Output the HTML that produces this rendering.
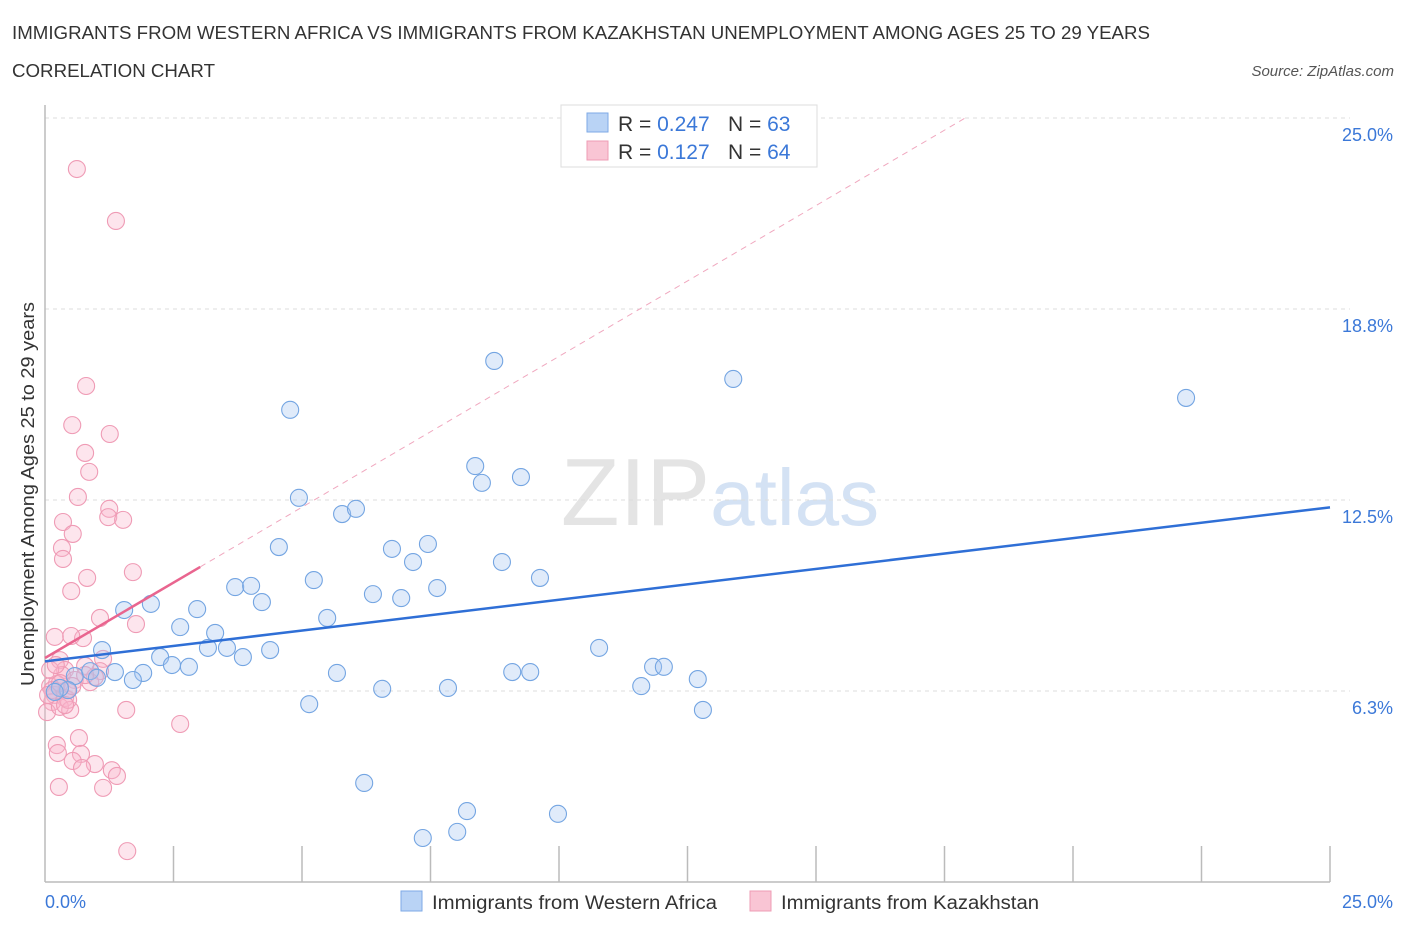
<!DOCTYPE html>
<html><head><meta charset="utf-8"><style>
body{margin:0;background:#fff;font-family:"Liberation Sans",sans-serif;}
svg text{font-family:"Liberation Sans",sans-serif;}
</style></head><body>
<svg id="chart" width="1406" height="930" viewBox="0 0 1406 930" xmlns="http://www.w3.org/2000/svg">
<text x="12" y="39" font-size="18" fill="#333" textLength="1138" lengthAdjust="spacingAndGlyphs">IMMIGRANTS FROM WESTERN AFRICA VS IMMIGRANTS FROM KAZAKHSTAN UNEMPLOYMENT AMONG AGES 25 TO 29 YEARS</text>
<text x="12" y="77" font-size="18" fill="#333" textLength="203" lengthAdjust="spacingAndGlyphs">CORRELATION CHART</text>
<text x="1394" y="76" font-size="15" fill="#555" text-anchor="end" font-style="italic">Source: ZipAtlas.com</text>
<text x="720" y="525" font-size="96" text-anchor="middle" fill="#e4e4e4" font-family="Liberation Serif">ZIP<tspan fill="#d4e2f4" font-family="Liberation Sans" font-size="80">atlas</tspan></text>
<g id="grid"></g>
<g id="axes"></g>
<g id="marks"></g>
<g id="lines"></g>
<text transform="translate(34,494) rotate(-90)" font-size="18" fill="#333" text-anchor="middle" textLength="384" lengthAdjust="spacingAndGlyphs">Unemployment Among Ages 25 to 29 years</text>
<text x="45" y="908" font-size="18" fill="#3b78d8">0.0%</text>
<text x="1393" y="908" font-size="18" fill="#3b78d8" text-anchor="end">25.0%</text>
<g>
<rect x="561" y="105" width="256" height="62" fill="#fff" stroke="#ddd"/>
<rect x="587" y="113" width="21" height="19" fill="#b9d3f5" stroke="#7ea9e6"/>
<rect x="587" y="141" width="21" height="19" fill="#f9c5d4" stroke="#ee9cb5"/>
<text x="618" y="131" font-size="21" fill="#333">R = <tspan fill="#3b78d8">0.247</tspan></text>
<text x="728" y="131" font-size="21" fill="#333">N = <tspan fill="#3b78d8">63</tspan></text>
<text x="618" y="159" font-size="21" fill="#333">R = <tspan fill="#3b78d8"> 0.127</tspan></text>
<text x="728" y="159" font-size="21" fill="#333">N = <tspan fill="#3b78d8">64</tspan></text>
</g>
<g>
<rect x="401" y="891" width="21" height="20" fill="#b9d3f5" stroke="#7ea9e6"/>
<text x="432" y="909" font-size="19" fill="#333" textLength="285" lengthAdjust="spacingAndGlyphs">Immigrants from Western Africa</text>
<rect x="750" y="891" width="21" height="20" fill="#f9c5d4" stroke="#ee9cb5"/>
<text x="781" y="909" font-size="19" fill="#333" textLength="258" lengthAdjust="spacingAndGlyphs">Immigrants from Kazakhstan</text>
</g>
</svg>
<script>
const yTicks=[6.25,12.5,18.75,25];
const yTickLabels=["6.3%","12.5%","18.8%","25.0%"];
const xTicks=[2.5,5,7.5,10,12.5,15,17.5,20,22.5,25];
const blueX=[8.74,13.39,22.20,4.77,8.37,8.50,9.26,4.94,5.78,6.05,4.55,6.75,7.45,7.16,8.89,5.23,9.63,3.70,4.01,7.63,2.06,4.22,1.54,2.96,6.38,6.93,5.49,2.63,3.31,1.11,3.17,3.54,4.38,3.85,2.24,2.47,2.80,1.36,1.91,1.71,10.78,11.83,12.04,9.09,9.44,5.68,12.70,11.60,6.56,7.84,5.14,12.80,0.58,0.88,1.01,0.45,0.29,0.19,6.21,8.21,9.98,7.35,8.02];
const blueY=[17.05,16.46,15.84,15.45,13.61,13.06,13.25,12.57,12.04,12.21,10.96,10.90,11.06,10.47,10.47,9.88,9.95,9.65,9.69,9.62,9.10,9.16,8.90,8.93,9.42,9.29,8.64,8.34,8.15,7.59,7.66,7.66,7.59,7.36,7.36,7.10,7.04,6.87,6.84,6.61,7.66,7.04,7.04,6.87,6.87,6.84,6.64,6.41,6.32,6.35,5.82,5.63,6.74,6.90,6.68,6.28,6.35,6.22,3.24,2.32,2.23,1.44,1.64];
const pinkX=[0.62,1.38,0.80,0.53,1.26,0.78,0.86,0.64,1.25,1.23,1.52,0.35,0.54,0.33,0.35,1.71,0.82,0.51,1.07,1.77,0.74,0.19,0.51,1.13,0.29,0.78,0.39,1.07,0.33,0.58,0.88,0.23,0.10,0.19,0.39,0.14,0.04,0.29,0.49,0.45,1.58,2.63,0.66,0.23,0.25,0.70,0.54,0.97,0.72,1.30,1.40,0.27,1.13,1.60,0.14,0.43,0.06,0.29,0.97,0.10,0.21,0.53,0.39,0.78];
const pinkY=[23.33,21.63,16.23,14.95,14.66,14.04,13.42,12.60,12.21,11.94,11.85,11.78,11.39,10.93,10.57,10.14,9.95,9.52,8.64,8.44,7.98,8.02,8.05,7.30,7.26,7.07,6.94,6.90,6.77,6.61,6.54,6.48,6.41,6.12,6.02,5.89,5.56,5.73,5.63,5.96,5.63,5.17,4.71,4.48,4.22,4.19,3.96,3.86,3.73,3.66,3.47,3.11,3.08,1.01,6.28,6.28,6.12,6.51,6.71,6.94,7.10,6.41,5.79,6.77];
const blueFit=[7.22,0.2016];
const pinkFit=[7.33,0.987];
const pinkSolidEnd=3.02;

const NS="http://www.w3.org/2000/svg";
const X0=45,X1=1330,Y0=882,Y1=118;
const sx=v=>X0+(v/25)*(X1-X0);
const sy=v=>Y0-(v/25)*(Y0-Y1);
function mk(tag,attrs,parent){const e=document.createElementNS(NS,tag);for(const k in attrs)e.setAttribute(k,attrs[k]);parent.appendChild(e);return e;}
const grid=document.getElementById('grid'),axes=document.getElementById('axes'),marks=document.getElementById('marks'),lines=document.getElementById('lines');
yTicks.forEach((t,i)=>{
 const g=mk('line',{x1:X0,x2:X1+20,y1:sy(t),y2:sy(t),stroke:'#ddd','stroke-dasharray':'4,4'},grid);
 
 
 const l=mk('text',{x:1393,y:sy(t)+23,'font-size':18,fill:'#3b78d8','text-anchor':'end'},grid);
 l.textContent=yTickLabels[i];
 
 
});
const ya=mk('line',{x1:X0,x2:X0,y1:105,y2:Y0,stroke:'#bbb','stroke-width':1.5},axes);


const xa=mk('line',{x1:X0,x2:X1,y1:Y0,y2:Y0,stroke:'#bbb','stroke-width':1.5},axes);


xTicks.forEach(t=>{
 const tk=mk('line',{x1:sx(t),x2:sx(t),y1:846,y2:Y0,stroke:'#bbb','stroke-width':1.5},axes);
 
 
});
pinkX.forEach((v,i)=>{
 const c=mk('circle',{cx:sx(v),cy:sy(pinkY[i]),r:8.5,fill:'rgba(248,180,202,0.35)',stroke:'#ef9bb5','stroke-width':1.1},marks);
 
 
});
blueX.forEach((v,i)=>{
 const c=mk('circle',{cx:sx(v),cy:sy(blueY[i]),r:8.5,fill:'rgba(165,198,240,0.35)',stroke:'#74a5e2','stroke-width':1.1},marks);
 
 
});
const dashEnd=(25-pinkFit[0])/pinkFit[1];
const pd=mk('line',{x1:sx(pinkSolidEnd),y1:sy(pinkFit[0]+pinkFit[1]*pinkSolidEnd),x2:sx(dashEnd),y2:sy(25),stroke:'#f0a8bf','stroke-width':1,'stroke-dasharray':'6,5'},lines);


const bl=mk('line',{x1:sx(0),y1:sy(blueFit[0]),x2:sx(25),y2:sy(blueFit[0]+blueFit[1]*25),stroke:'#2f6fd6','stroke-width':2.5},lines);


const pl=mk('line',{x1:sx(0),y1:sy(pinkFit[0]),x2:sx(pinkSolidEnd),y2:sy(pinkFit[0]+pinkFit[1]*pinkSolidEnd),stroke:'#e9658f','stroke-width':2.5},lines);


</script>
</body></html>
